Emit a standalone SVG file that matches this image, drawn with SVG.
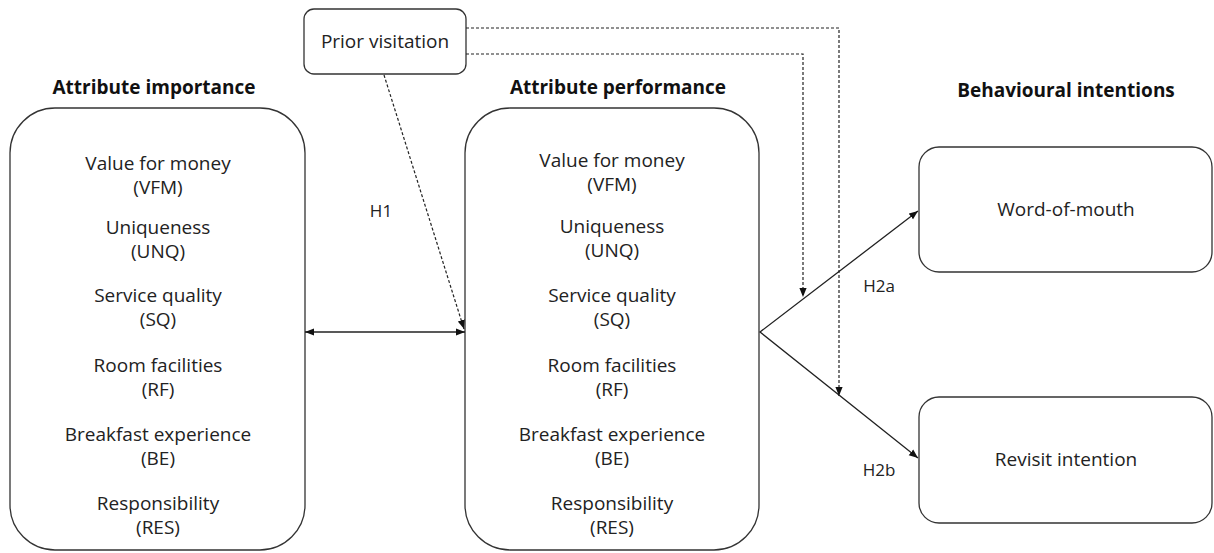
<svg xmlns="http://www.w3.org/2000/svg" width="1214" height="553" viewBox="0 0 1214 553">
<style>
.box{fill:#fff;stroke:#333;stroke-width:1.3}
.t{font-family:"Open Sans","Noto Sans",sans-serif;font-size:19px;fill:#222;text-anchor:middle}
.l{font-family:"Open Sans","Noto Sans",sans-serif;font-size:17px;fill:#222;text-anchor:middle}
.h{font-family:"Open Sans","Noto Sans",sans-serif;font-size:19px;font-weight:bold;fill:#111;text-anchor:middle}
.c{fill:none;stroke:#222;stroke-width:1.3}
.d{fill:none;stroke:#222;stroke-width:1.2;stroke-dasharray:3 2}
</style>
<defs>
<marker id="ah" viewBox="0 0 10 10" refX="10" refY="5" markerWidth="9" markerHeight="9" markerUnits="userSpaceOnUse" orient="auto-start-reverse">
<path d="M0,1 L10,5 L0,9 Z" fill="#111"/>
</marker>
</defs>
<g id="titles">
<text class="h" x="154" y="94">Attribute importance</text>
<text class="h" x="618" y="94">Attribute performance</text>
<text class="h" x="1066" y="97">Behavioural intentions</text>
</g>
<g id="prior">
<rect class="box" x="304" y="9" width="162" height="65" rx="10"/>
<text class="t" x="385" y="48">Prior visitation</text>
</g>
<g id="importance">
<rect class="box" x="10" y="108" width="295" height="442" rx="45"/>
<text class="t" x="158" y="170">Value for money<tspan x="158" dy="23.5">(VFM)</tspan></text>
<text class="t" x="158" y="234">Uniqueness<tspan x="158" dy="23.5">(UNQ)</tspan></text>
<text class="t" x="158" y="302">Service quality<tspan x="158" dy="23.5">(SQ)</tspan></text>
<text class="t" x="158" y="372">Room facilities<tspan x="158" dy="23.5">(RF)</tspan></text>
<text class="t" x="158" y="441">Breakfast experience<tspan x="158" dy="23.5">(BE)</tspan></text>
<text class="t" x="158" y="510">Responsibility<tspan x="158" dy="23.5">(RES)</tspan></text>
</g>
<g id="performance">
<rect class="box" x="465" y="108" width="294" height="442" rx="45"/>
<text class="t" x="612" y="167">Value for money<tspan x="612" dy="23.5">(VFM)</tspan></text>
<text class="t" x="612" y="233">Uniqueness<tspan x="612" dy="23.5">(UNQ)</tspan></text>
<text class="t" x="612" y="302">Service quality<tspan x="612" dy="23.5">(SQ)</tspan></text>
<text class="t" x="612" y="372">Room facilities<tspan x="612" dy="23.5">(RF)</tspan></text>
<text class="t" x="612" y="441">Breakfast experience<tspan x="612" dy="23.5">(BE)</tspan></text>
<text class="t" x="612" y="510">Responsibility<tspan x="612" dy="23.5">(RES)</tspan></text>
</g>
<g id="wom">
<rect class="box" x="919" y="147" width="293" height="125" rx="20"/>
<text class="t" x="1066" y="216">Word-of-mouth</text>
</g>
<g id="revisit">
<rect class="box" x="919" y="397" width="293" height="126" rx="20"/>
<text class="t" x="1066" y="466">Revisit intention</text>
</g>
<g id="connectors">
<line class="c" x1="305" y1="332" x2="465" y2="332" marker-start="url(#ah)" marker-end="url(#ah)"/>
<line class="d" x1="384" y1="75" x2="464" y2="329" marker-end="url(#ah)"/>
<polyline class="c" points="918,211 760,332 918,458" marker-start="url(#ah)" marker-end="url(#ah)"/>
<polyline class="d" points="466,28 839,28 839,396" marker-end="url(#ah)"/>
<polyline class="d" points="466,54 803,54 803,297" marker-end="url(#ah)"/>
<text class="l" x="381" y="217">H1</text>
<text class="l" x="879" y="292">H2a</text>
<text class="l" x="879" y="476">H2b</text>
</g>
</svg>
